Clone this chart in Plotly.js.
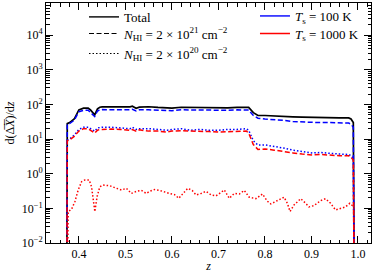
<!DOCTYPE html>
<html><head><meta charset="utf-8">
<script src="https://cdn.plot.ly/plotly-3.0.1.min.js"></script>
<style>html,body{margin:0;padding:0;background:#fff}</style>
</head><body><div id="chart" style="width:374px;height:273px"></div>
<script>
// redshift grid for the smooth curves
const z = [0.3737,0.375,0.38,0.385,0.39,0.40,0.41,0.42,0.425,0.434,0.44,0.445,0.45,0.47,0.49,0.51,0.515,0.523,0.53,0.55,0.57,0.59,0.60,0.62,0.64,0.66,0.68,0.70,0.72,0.74,0.76,0.765,0.775,0.785,0.80,0.82,0.84,0.86,0.88,0.90,0.92,0.94,0.96,0.98,0.985,0.99,0.9925];
const total = [1e-5,28,30,33,38,70,78,78,70,50,75,83,85,86,84,85,89,78,84,86,82,78,78,83,82,80,79,79,80,82,83,82,58,48,48,46,45,44,43,42,42,42,41,41,38,30,1e-5];
const nhi21_T100 = [1e-5,27,28,31,35,62,68,68,60,45,65,70,71,72,70,70,73,65,70,70,68,66,66,70,69,68,67,67,68,70,70,69,48,40,38,37,35,32,31,30,30,30,29.5,29,27,22,1e-5];
const nhi20_T100 = [1e-5,9.3,10,11.5,13,19,22,22,20,17,21,22,22,22,21,20,22,19,20,20,19,18,19,20,18,19,18,18,19,19,20,18,9,6.7,6.8,6.2,5.5,4.8,4.3,4.0,4.1,3.8,3.7,3.6,3.3,2.8,1e-5];
const nhi21_T1000 = [1e-5,9,9.5,10.5,12,17,20,20,18,15,18,19,19,19.5,19,18,19,17,18.5,17,17,16,17,17.5,17,17,16.5,16,16.5,17,17,15,7,5.0,5.2,4.8,4.3,4.0,3.7,3.5,3.6,3.4,3.3,3.3,3.0,2.5,1e-5];
// noisy curve (N_HI = 2e20, T_s = 1000 K)
const zNoisy = [0.3737,0.3771,0.3844,0.3914,0.3985,0.4058,0.4128,0.4221,0.4272,0.4306,0.4343,0.4392,0.4450,0.4520,0.4664,0.4807,0.4914,0.5021,0.5128,0.5236,0.5343,0.5450,0.5520,0.5627,0.5734,0.5949,0.6056,0.6148,0.6233,0.6340,0.6435,0.6520,0.6627,0.6734,0.6842,0.6949,0.7056,0.7126,0.7233,0.7340,0.7448,0.7555,0.7662,0.7805,0.7946,0.8054,0.8126,0.8268,0.8411,0.8482,0.8540,0.8625,0.8769,0.8876,0.8946,0.9054,0.9197,0.9304,0.9411,0.9518,0.9625,0.9732,0.9824,0.9910,0.9925];
const nhi20_T1000 = [1e-5,0.081,0.095,0.156,0.34,0.59,0.66,0.66,0.42,0.175,0.081,0.22,0.42,0.47,0.45,0.38,0.34,0.38,0.27,0.31,0.33,0.27,0.31,0.35,0.33,0.27,0.25,0.195,0.27,0.38,0.33,0.244,0.27,0.31,0.244,0.23,0.29,0.34,0.195,0.27,0.26,0.33,0.21,0.19,0.26,0.16,0.134,0.17,0.21,0.14,0.081,0.125,0.19,0.14,0.11,0.12,0.167,0.19,0.14,0.09,0.099,0.11,0.14,0.11,1e-5];

const yTickVals = [1e-2,1e-1,1,10,100,1e3,1e4];
const yTickText = ['10<sup>−2</sup>','10<sup>−1</sup>','10<sup>0</sup>','10<sup>1</sup>','10<sup>2</sup>','10<sup>3</sup>','10<sup>4</sup>'];
const legendNames = ['Total','<i>N</i><sub>HI</sub> = 2 × 10<sup>21</sup> cm<sup>−2</sup>','<i>N</i><sub>HI</sub> = 2 × 10<sup>20</sup> cm<sup>−2</sup>','<i>T</i><sub>s</sub> = 100 K','<i>T</i><sub>s</sub> = 1000 K'];

const minorY = [];
for (let e = -2; e <= 4; e++) for (let d = 2; d <= 9; d++) minorY.push(d * Math.pow(10, e));

const BLUE = '#0000ff', RED = '#ff0000', BLACK = '#000000';
const W = 1.5;
const DASH = '5px,2.5px', DOT = '1.5px,2px';
const traces = [
  {x: z, y: total, mode: 'lines', line: {color: BLACK, width: 1.7}, showlegend: false},
  {x: z, y: nhi21_T100, mode: 'lines', line: {color: BLUE, width: W, dash: DASH}, showlegend: false},
  {x: z, y: nhi20_T100, mode: 'lines', line: {color: BLUE, width: W, dash: DOT}, showlegend: false},
  {x: z, y: nhi21_T1000, mode: 'lines', line: {color: RED, width: W, dash: DASH}, showlegend: false},
  {x: zNoisy, y: nhi20_T1000, mode: 'lines', line: {color: RED, width: W, dash: DOT}, showlegend: false},
  // legend-only entries, one legend box per row
  {x: [null], y: [null], mode: 'lines', name: legendNames[0], line: {color: BLACK, width: 1.4}, legend: 'legend'},
  {x: [null], y: [null], mode: 'lines', name: legendNames[1], line: {color: BLACK, width: 1.2, dash: DASH}, legend: 'legend2'},
  {x: [null], y: [null], mode: 'lines', name: legendNames[2], line: {color: BLACK, width: 1.2, dash: DOT}, legend: 'legend3'},
  {x: [null], y: [null], mode: 'lines', name: legendNames[3], line: {color: BLUE, width: 1.4}, legend: 'legend4'},
  {x: [null], y: [null], mode: 'lines', name: legendNames[4], line: {color: RED, width: 1.4}, legend: 'legend5'}
];

const FONT = 'Liberation Serif, DejaVu Serif, serif';
function leg(x, y) {
  return {x: x, y: y, xanchor: 'left', yanchor: 'middle', bgcolor: 'rgba(0,0,0,0)', borderwidth: 0, font: {size: 13}, tracegroupgap: 0};
}
const layout = {
  width: 374, height: 273,
  margin: {l: 46, r: 3, t: 2, b: 30},
  paper_bgcolor: '#fff', plot_bgcolor: '#fff',
  font: {family: FONT, size: 12, color: '#000'},
  xaxis: {
    range: [0.3293, 1.028], tick0: 0, dtick: 0.1, tickformat: '.1f',
    ticks: 'inside', ticklen: 7, tickwidth: 1, tickcolor: '#000',
    showline: true, linecolor: '#000', linewidth: 1, mirror: 'ticks',
    showgrid: false, zeroline: false,
    minor: {dtick: 0.02, ticks: 'inside', ticklen: 3.5, tickcolor: '#000', showgrid: false},
    tickfont: {size: 12},
    title: {text: '<i>z</i>', font: {size: 12}, standoff: 4}
  },
  yaxis: {
    type: 'log', range: [-2, 4.93],
    tickmode: 'array', tickvals: yTickVals, ticktext: yTickText,
    ticks: 'inside', ticklen: 7, tickwidth: 1, tickcolor: '#000',
    showline: true, linecolor: '#000', linewidth: 1, mirror: 'ticks',
    showgrid: false, zeroline: false,
    minor: {tickmode: 'array', tickvals: minorY, ticks: 'inside', ticklen: 3.5, tickcolor: '#000', showgrid: false},
    tickfont: {size: 12},
    title: {text: 'd(Δ̅<i>X̅</i>)/d<i>z</i>', font: {size: 12}, standoff: 4}
  },
  legend: leg(0.117, 0.938),
  legend2: leg(0.117, 0.869),
  legend3: leg(0.117, 0.786),
  legend4: leg(0.643, 0.942),
  legend5: leg(0.643, 0.869)
};
Plotly.newPlot('chart', traces, layout, {displayModeBar: false, staticPlot: true});
</script></body></html>
